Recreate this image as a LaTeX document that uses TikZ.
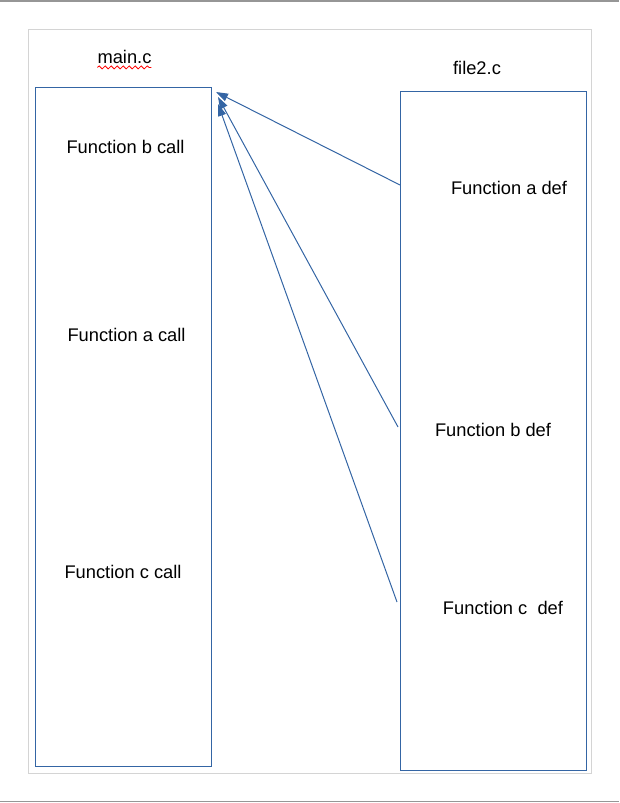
\documentclass[tikz,border=0pt]{standalone}
\usepackage{fontspec}
\setmainfont{Liberation Sans}
\usetikzlibrary{arrows.meta,decorations.pathmorphing}

\definecolor{lineblue}{RGB}{52,101,164}
\definecolor{rulegray}{RGB}{150,150,150}
\definecolor{pagegray}{RGB}{212,212,212}

\begin{document}
\begin{tikzpicture}[x=1pt,y=-1pt,
    every node/.style={font=\fontsize{18.3}{22}\selectfont,inner sep=0pt},
    filebox/.style={draw=lineblue,line width=1pt,minimum width=#1},
    callarrow/.style={draw=lineblue,line width=1pt,-{Triangle[length=12pt,width=8pt]}}]

    % Page and rules
    \useasboundingbox (0,0) rectangle (619,803);
    \draw[rulegray,line width=1.5pt] (0,0.75) -- (619,0.75);
    \draw[rulegray,line width=1.5pt] (0,801.5) -- (619,801.5);
    \draw[pagegray,line width=1pt] (28,29) rectangle (591,773);

    % The two files
    \node[filebox=176pt,minimum height=679pt] (mainbox) at (123,426.5) {};
    \node[filebox=186pt,minimum height=679pt] (filebox) at (493,430.5) {};
    \node (mainlbl) at (124.5,57) {main.c};
    \node (filelbl) at (477,68) {file2.c};
    \draw[red,line width=0.8pt,decorate,
      decoration={snake,amplitude=1.5pt,segment length=6pt}]
      (mainlbl.south west) ++(0,3.5) -- ++(54,0);

    % Calls in main.c
    \node (bcall) at (125.5,147) {Function b call};
    \node (acall) at (126.5,335) {Function a call};
    \node (ccall) at (123,572) {Function c call};

    % Definitions in file2.c
    \node (adef) at (509,188) {Function a def};
    \node (bdef) at (493,430) {Function b def};
    \node (cdef) at (503,608) {Function c\ \ def};

    % Arrow ends
    \coordinate (afrom) at (400,185);
    \coordinate (bfrom) at (398,427);
    \coordinate (cfrom) at (397,602);
    \coordinate (ato) at (216,92);
    \coordinate (bto) at (218,97);
    \coordinate (cto) at (218,104);

    \foreach \u/\v in {afrom/ato,bfrom/bto,cfrom/cto} {
      \draw[callarrow] (\u) -- (\v);
    }

  \end{tikzpicture}
\end{document}
